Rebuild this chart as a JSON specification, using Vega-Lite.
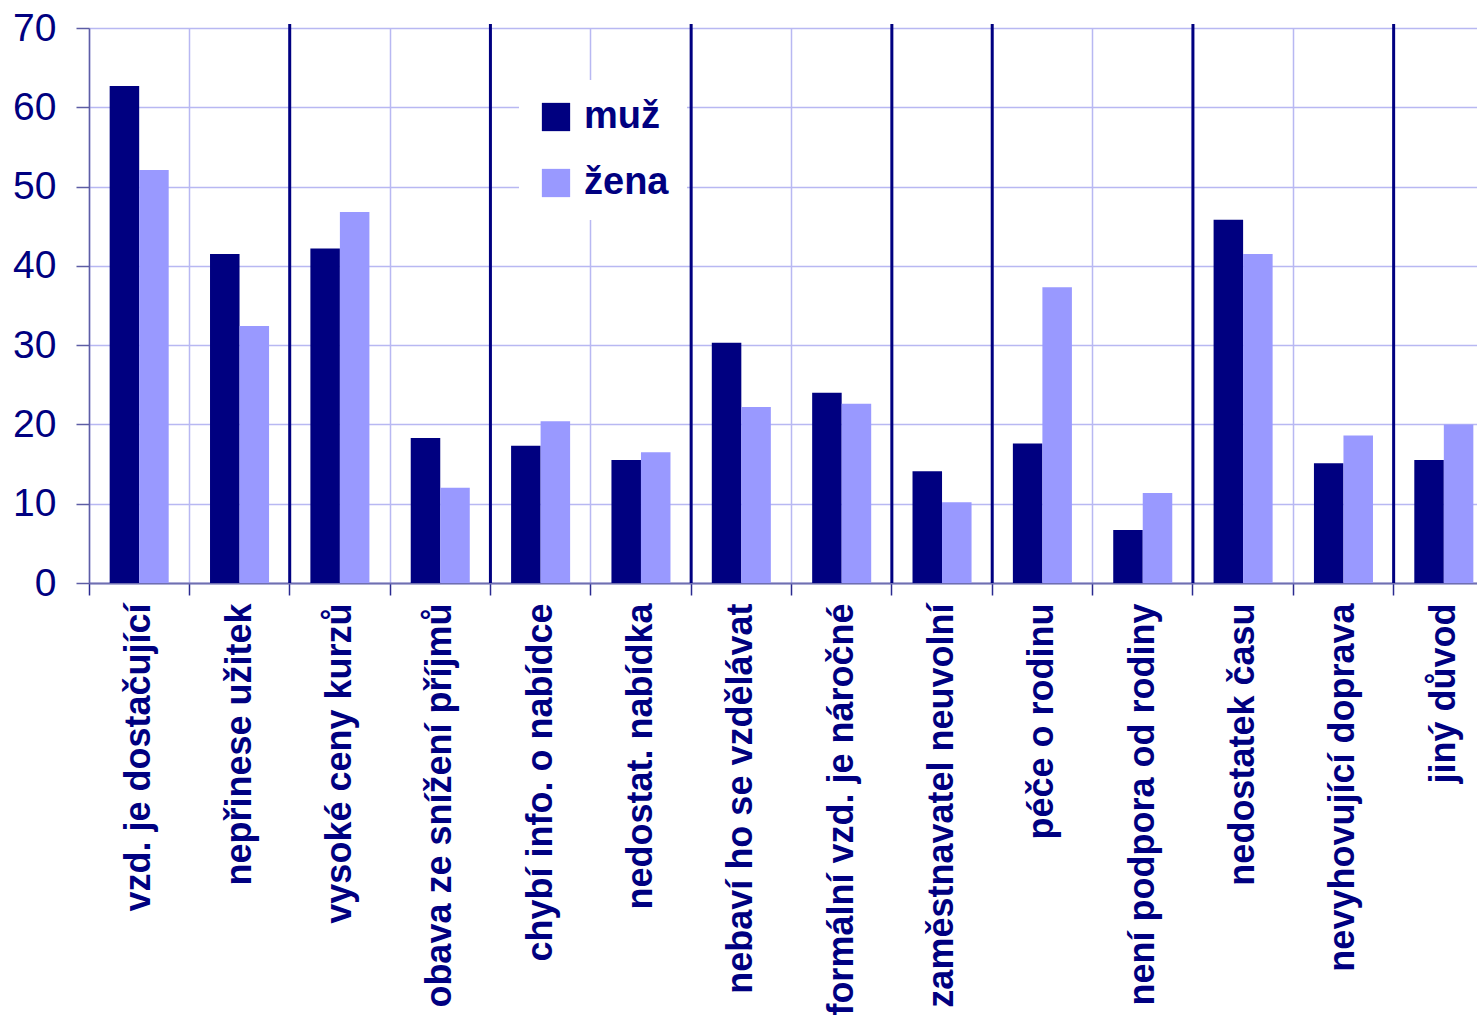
{
  "$schema": "https://vega.github.io/schema/vega-lite/v6.json",
  "autosize": {"type": "none"},
  "width": 1388,
  "height": 555,
  "padding": {"left": 89, "top": 28, "right": 0, "bottom": 438},
  "background": "white",
  "config": {
    "view": {"stroke": null},
    "font": "Liberation Sans, Arial, sans-serif"
  },
  "datasets": {
    "bars": [
      {"duvod": "vzd. je dostačující", "pohlavi": "muž", "hodnota": 62.7},
      {"duvod": "vzd. je dostačující", "pohlavi": "žena", "hodnota": 52.1},
      {"duvod": "nepřinese užitek", "pohlavi": "muž", "hodnota": 41.5},
      {"duvod": "nepřinese užitek", "pohlavi": "žena", "hodnota": 32.4},
      {"duvod": "vysoké ceny kurzů", "pohlavi": "muž", "hodnota": 42.2},
      {"duvod": "vysoké ceny kurzů", "pohlavi": "žena", "hodnota": 46.8},
      {"duvod": "obava ze snížení příjmů", "pohlavi": "muž", "hodnota": 18.3},
      {"duvod": "obava ze snížení příjmů", "pohlavi": "žena", "hodnota": 12.0},
      {"duvod": "chybí info. o nabídce", "pohlavi": "muž", "hodnota": 17.3},
      {"duvod": "chybí info. o nabídce", "pohlavi": "žena", "hodnota": 20.4},
      {"duvod": "nedostat. nabídka", "pohlavi": "muž", "hodnota": 15.5},
      {"duvod": "nedostat. nabídka", "pohlavi": "žena", "hodnota": 16.5},
      {"duvod": "nebaví ho se vzdělávat", "pohlavi": "muž", "hodnota": 30.3},
      {"duvod": "nebaví ho se vzdělávat", "pohlavi": "žena", "hodnota": 22.2},
      {"duvod": "formální vzd. je náročné", "pohlavi": "muž", "hodnota": 24.0},
      {"duvod": "formální vzd. je náročné", "pohlavi": "žena", "hodnota": 22.6},
      {"duvod": "zaměstnavatel neuvolní", "pohlavi": "muž", "hodnota": 14.1},
      {"duvod": "zaměstnavatel neuvolní", "pohlavi": "žena", "hodnota": 10.2},
      {"duvod": "péče o rodinu", "pohlavi": "muž", "hodnota": 17.6},
      {"duvod": "péče o rodinu", "pohlavi": "žena", "hodnota": 37.3},
      {"duvod": "není podpora od rodiny", "pohlavi": "muž", "hodnota": 6.7},
      {"duvod": "není podpora od rodiny", "pohlavi": "žena", "hodnota": 11.35},
      {"duvod": "nedostatek času", "pohlavi": "muž", "hodnota": 45.8},
      {"duvod": "nedostatek času", "pohlavi": "žena", "hodnota": 41.5},
      {"duvod": "nevyhovující doprava", "pohlavi": "muž", "hodnota": 15.1},
      {"duvod": "nevyhovující doprava", "pohlavi": "žena", "hodnota": 18.6},
      {"duvod": "jiný důvod", "pohlavi": "muž", "hodnota": 15.5},
      {"duvod": "jiný důvod", "pohlavi": "žena", "hodnota": 20.0}
    ],
    "seps": [
      {"duvod": "vysoké ceny kurzů"},
      {"duvod": "chybí info. o nabídce"},
      {"duvod": "nebaví ho se vzdělávat"},
      {"duvod": "zaměstnavatel neuvolní"},
      {"duvod": "péče o rodinu"},
      {"duvod": "nedostatek času"},
      {"duvod": "jiný důvod"}
    ]
  },
  "layer": [
    {
      "data": {"name": "bars"},
      "mark": {"type": "bar"},
      "encoding": {
        "x": {
          "field": "duvod",
          "type": "nominal",
          "sort": null,
          "scale": {
            "domain": ["vzd. je dostačující", "nepřinese užitek", "vysoké ceny kurzů", "obava ze snížení příjmů", "chybí info. o nabídce", "nedostat. nabídka", "nebaví ho se vzdělávat", "formální vzd. je náročné", "zaměstnavatel neuvolní", "péče o rodinu", "není podpora od rodiny", "nedostatek času", "nevyhovující doprava", "jiný důvod"],
            "range": [0, 1405],
            "paddingInner": 0,
            "paddingOuter": 0
          },
          "axis": {
            "title": null,
            "bandPosition": 0,
            "labelAngle": -90,
            "labelAlign": "right",
            "labelBaseline": "middle",
            "labelFontWeight": "bold",
            "labelFontSize": 36,
            "labelColor": "#000080",
            "labelPadding": 8,
            "labelLimit": 0,
            "labelOverlap": false,
            "tickSize": 12,
            "tickColor": "#2a2a90",
            "tickWidth": 1.5,
            "domainColor": "#6f6fb0",
            "domainWidth": 2,
            "grid": true,
            "gridColor": "#b8b8f2",
            "gridWidth": 1.5
          }
        },
        "xOffset": {
          "field": "pohlavi",
          "type": "nominal",
          "scale": {"domain": ["muž", "žena"], "paddingOuter": 0.7, "paddingInner": 0}
        },
        "y": {
          "field": "hodnota",
          "type": "quantitative",
          "scale": {"domain": [0, 70], "nice": false},
          "axis": {
            "title": null,
            "values": [0, 10, 20, 30, 40, 50, 60, 70],
            "labelFontSize": 39,
            "labelColor": "#000080",
            "labelPadding": 20,
            "tickSize": 13,
            "tickColor": "#5d5da5",
            "tickWidth": 1.5,
            "domainColor": "#5d5da5",
            "domainWidth": 1.5,
            "grid": true,
            "gridColor": "#b8b8f2",
            "gridWidth": 1.5
          }
        },
        "color": {
          "field": "pohlavi",
          "type": "nominal",
          "scale": {"domain": ["muž", "žena"], "range": ["#000080", "#9999FF"]},
          "legend": {
            "title": null,
            "orient": "none",
            "legendX": 430,
            "legendY": 52,
            "fillColor": "white",
            "padding": 18,
            "symbolType": "square",
            "symbolSize": 800,
            "symbolStrokeWidth": 0,
            "labelFontSize": 38,
            "labelFontWeight": "bold",
            "labelColor": "#000080",
            "labelOffset": 9,
            "rowPadding": 28
          }
        }
      }
    },
    {
      "data": {"name": "seps"},
      "mark": {"type": "rule", "color": "#000080", "strokeWidth": 3},
      "encoding": {
        "x": {"field": "duvod", "type": "nominal", "bandPosition": 0},
        "y": {"datum": 0},
        "y2": {"datum": 70.5}
      }
    }
  ]
}
